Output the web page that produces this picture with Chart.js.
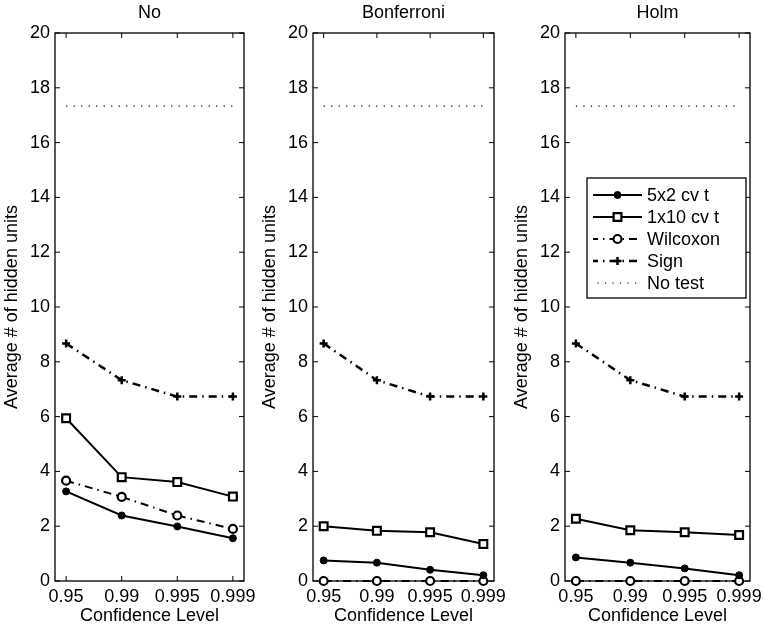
<!DOCTYPE html>
<html>
<head>
<meta charset="utf-8">
<script src="https://cdn.jsdelivr.net/npm/chart.js@4.4.0/dist/chart.umd.min.js"></script>
<style>
  html, body { margin: 0; padding: 0; background: #fff; overflow: hidden; width: 764px; height: 630px; }
  .panel { position: absolute; top: 0; }
</style>
</head>
<body>
<div class="panel" style="left:0px"><canvas id="chartNo" width="270" height="630"></canvas></div>
<div class="panel" style="left:258px"><canvas id="chartBon" width="270" height="630"></canvas></div>
<div class="panel" style="left:510px"><canvas id="chartHolm" width="270" height="630"></canvas></div>
<script>
// data
const levels = ['0.95', '0.99', '0.995', '0.999'];
const panelTitles = ['No', 'Bonferroni', 'Holm'];
const seriesNames = ['5x2 cv t', '1x10 cv t', 'Wilcoxon', 'Sign', 'No test'];

const noCv5x2 = [3.27, 2.39, 1.99, 1.56];
const noCv1x10 = [5.94, 3.79, 3.61, 3.08];
const noWilcoxon = [3.66, 3.07, 2.39, 1.90];
const noSign = [8.67, 7.33, 6.73, 6.73];

const bonCv5x2 = [0.75, 0.67, 0.41, 0.21];
const bonCv1x10 = [2.00, 1.83, 1.78, 1.35];
const bonWilcoxon = [0, 0, 0, 0];
const bonSign = [8.67, 7.33, 6.73, 6.73];

const holmCv5x2 = [0.86, 0.67, 0.46, 0.21];
const holmCv1x10 = [2.27, 1.85, 1.78, 1.68];
const holmWilcoxon = [0, 0, 0, 0];
const holmSign = [8.67, 7.33, 6.73, 6.73];

const noTestValue = 17.33;

const yTitle = 'Average # of hidden units';
const xTitle = 'Confidence Level';

const FAMILY = "'Liberation Sans', Arial, Helvetica, sans-serif";
const FONT = { family: FAMILY, size: 18 };
const dashDot = [8, 5, 1.5, 5];

function pts(vals) {
  return vals.map((v, i) => ({ x: i + 1, y: v }));
}

function makeDatasets(cv5x2, cv1x10, wilcoxon, sign) {
  return [
    { label: seriesNames[0], data: pts(cv5x2), borderColor: '#000', borderWidth: 2,
      pointStyle: 'circle', pointRadius: 3.5, pointBackgroundColor: '#000', pointBorderColor: '#000', pointBorderWidth: 1, clip: false },
    { label: seriesNames[1], data: pts(cv1x10), borderColor: '#000', borderWidth: 2,
      pointStyle: 'rect', pointRadius: 5.5, pointBackgroundColor: '#fff', pointBorderColor: '#000', pointBorderWidth: 2.2, clip: false },
    { label: seriesNames[2], data: pts(wilcoxon), borderColor: '#000', borderWidth: 2, borderDash: dashDot,
      pointStyle: 'circle', pointRadius: 4, pointBackgroundColor: '#fff', pointBorderColor: '#000', pointBorderWidth: 2.2, clip: false },
    { label: seriesNames[3], data: pts(sign), borderColor: '#000', borderWidth: 2.5, borderDash: dashDot,
      pointStyle: 'cross', pointRadius: 4, pointBackgroundColor: '#000', pointBorderColor: '#000', pointBorderWidth: 2.5, clip: false },
    { label: seriesNames[4], data: pts(levels.map(() => noTestValue)), borderColor: '#000', borderWidth: 1.2, borderDash: [1.2, 6.3],
      pointRadius: 0, clip: false }
  ];
}

// axes box with inward ticks
const boxPlugin = {
  id: 'axisBox',
  beforeDatasetsDraw(chart) {
    const { ctx, chartArea: a, scales: { x, y } } = chart;
    ctx.save();
    ctx.strokeStyle = '#000';
    ctx.lineWidth = 1.3;
    ctx.strokeRect(a.left, a.top, a.right - a.left, a.bottom - a.top);
    ctx.lineWidth = 1;
    ctx.beginPath();
    x.ticks.forEach(t => {
      const px = x.getPixelForValue(t.value);
      ctx.moveTo(px, a.bottom); ctx.lineTo(px, a.bottom - 5);
      ctx.moveTo(px, a.top); ctx.lineTo(px, a.top + 5);
    });
    y.ticks.forEach(t => {
      const py = y.getPixelForValue(t.value);
      ctx.moveTo(a.left, py); ctx.lineTo(a.left + 5, py);
      ctx.moveTo(a.right, py); ctx.lineTo(a.right - 5, py);
    });
    ctx.stroke();
    ctx.restore();
  }
};

// boxed legend inside the last panel
const legendPlugin = {
  id: 'boxLegend',
  afterDraw(chart, args, opts) {
    if (!opts.show) return;
    const { ctx, chartArea: a } = chart;
    const left = a.left + 22, right = a.right - 4, top = 178, bottom = 298;
    ctx.save();
    ctx.fillStyle = '#fff';
    ctx.fillRect(left, top, right - left, bottom - top);
    ctx.strokeStyle = '#000';
    ctx.lineWidth = 1.3;
    ctx.strokeRect(left, top, right - left, bottom - top);
    ctx.font = FONT.size + 'px ' + FAMILY;
    ctx.textBaseline = 'middle';
    chart.data.datasets.forEach((ds, i) => {
      const yy = 195 + i * 22;
      const x1 = a.left + 28, x2 = a.left + 77, xm = (x1 + x2) / 2;
      ctx.strokeStyle = ds.borderColor;
      ctx.lineWidth = ds.borderWidth;
      ctx.setLineDash(ds.borderDash || []);
      ctx.lineDashOffset = ds.borderDash ? 3 : 0;
      ctx.beginPath();
      ctx.moveTo(x1, yy); ctx.lineTo(x2, yy);
      ctx.stroke();
      ctx.setLineDash([]);
      if (ds.pointRadius > 0) {
        ctx.fillStyle = ds.pointBackgroundColor;
        ctx.strokeStyle = ds.pointBorderColor;
        ctx.lineWidth = ds.pointBorderWidth;
        Chart.helpers.drawPoint(ctx, { pointStyle: ds.pointStyle, radius: ds.pointRadius, rotation: 0, borderWidth: ds.pointBorderWidth }, xm, yy);
      }
      ctx.fillStyle = '#000';
      ctx.fillText(ds.label, a.left + 82, yy + 1);
    });
    ctx.restore();
  }
};

function makeChart(id, title, datasets, rightPad, showLegend) {
  return new Chart(document.getElementById(id), {
    type: 'line',
    data: { datasets: datasets },
    options: {
      responsive: false,
      animation: false,
      devicePixelRatio: 1,
      layout: { autoPadding: false, padding: { left: 0, right: rightPad, top: 0, bottom: 0 } },
      elements: { line: { tension: 0 } },
      plugins: {
        legend: { display: false },
        tooltip: { enabled: false },
        title: { display: true, text: title, color: '#000', fullSize: false,
          font: { family: FAMILY, size: 18, weight: 'normal' }, padding: { top: 2, bottom: 9.4 } },
        boxLegend: { show: showLegend }
      },
      scales: {
        x: {
          type: 'linear', min: 0.8, max: 4.2,
          afterBuildTicks: s => { s.ticks = levels.map((l, i) => ({ value: i + 1 })); },
          afterFit: s => { s.height = 49; },
          grid: { display: false, drawTicks: false }, border: { display: false },
          ticks: { callback: v => levels[v - 1], color: '#000', font: FONT, padding: 5, maxRotation: 0, autoSkip: false },
          title: { display: true, text: xTitle, color: '#000', font: FONT, padding: { top: 0, bottom: 3.5 } }
        },
        y: {
          min: 0, max: 20,
          afterFit: s => { s.width = 55; },
          grid: { display: false, drawTicks: false }, border: { display: false },
          ticks: { stepSize: 2, color: '#000', font: FONT, padding: 5 },
          title: { display: true, text: yTitle, color: '#000', font: FONT, padding: { top: 1.2, bottom: 0 } }
        }
      }
    },
    plugins: [boxPlugin, legendPlugin]
  });
}

makeChart('chartNo', panelTitles[0], makeDatasets(noCv5x2, noCv1x10, noWilcoxon, noSign), 26, false);
makeChart('chartBon', panelTitles[1], makeDatasets(bonCv5x2, bonCv1x10, bonWilcoxon, bonSign), 34, false);
makeChart('chartHolm', panelTitles[2], makeDatasets(holmCv5x2, holmCv1x10, holmWilcoxon, holmSign), 30, true);
</script>
</body>
</html>
